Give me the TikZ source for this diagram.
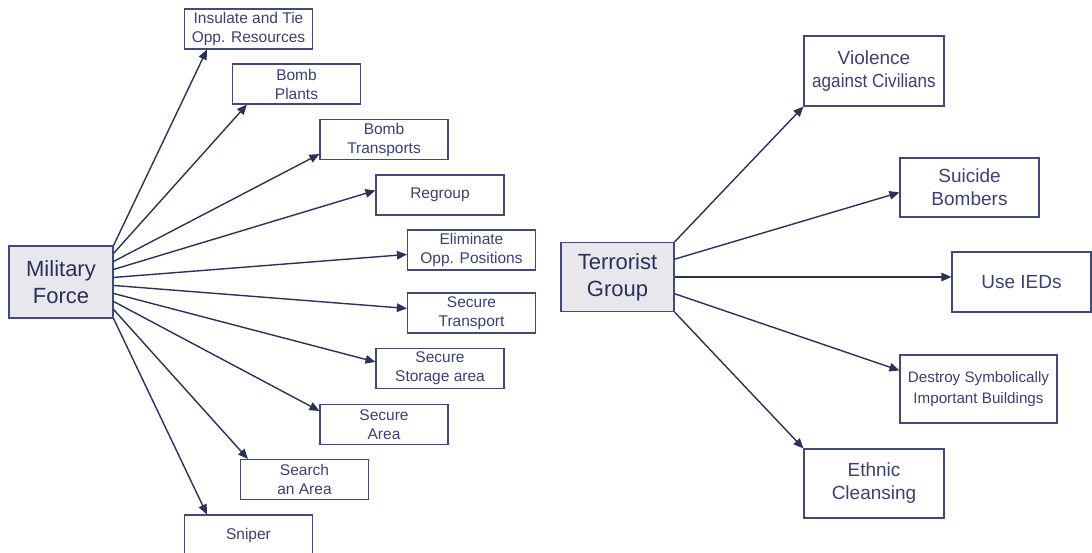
\documentclass[tikz,border=0pt]{standalone}
\usepackage{fontspec}
\usepackage{graphicx}
\setmainfont{Liberation Sans}
\usetikzlibrary{arrows.meta,calc}

\definecolor{linkcol}{HTML}{2B3158}
\definecolor{edgecol}{HTML}{414A78}
\definecolor{txtcol}{HTML}{3C416E}
\definecolor{hubfill}{HTML}{E8E8EC}
\definecolor{hubtxt}{HTML}{2A2F5C}

\begin{document}
\begin{tikzpicture}[x=1pt,y=-1pt,
  box/.style={draw=edgecol, line width=1.1pt, fill=white, text=txtcol,
    align=center, inner sep=0pt, minimum width=128pt, minimum height=40pt,
    font=\fontsize{15.5}{19}\selectfont},
  bigbox/.style={box, minimum width=140pt, minimum height=69pt,
    font=\fontsize{19}{23}\selectfont},
  hub/.style={box, fill=hubfill, text=hubtxt,
    font=\fontsize{22}{27}\selectfont},
  link/.style={draw=linkcol, line width=1.4pt,
    -{Triangle[length=10pt,width=8.5pt]}},
]
\useasboundingbox (0,0) rectangle (1092,553);

% ---------- Military Force ----------
\node[hub, minimum width=104pt, minimum height=72pt] (mf) at (61,282) {Military\\Force};

\node[box] (ins) at (248.5,29)  {Insulate and Tie\\Opp. Resources};
\node[box] (bp)  at (296.5,84)  {Bomb\\Plants};
\node[box] (bt)  at (384,139.5) {Bomb\\Transports};
\node[box] (rg)  at (440,195)   {Regroup};
\node[box] (el)  at (471.5,250) {Eliminate\\Opp. Positions};
\node[box] (st)  at (471.5,313) {Secure\\Transport};
\node[box] (ss)  at (440,368.5) {Secure\\Storage area};
\node[box] (sa)  at (384,424.5) {Secure\\Area};
\node[box] (se)  at (304.5,479.5) {Search\\an Area};
\node[box] (sn)  at (248.5,535) {Sniper};

\draw[link] (mf.north east) -- ([xshift=23pt]ins.south west);
\draw[link] ([yshift=-8pt]mf.north east) -- ([xshift=15pt]bp.south west);
\draw[link] ([yshift=-16pt]mf.north east) -- ([yshift=6pt]bt.south west);
\draw[link] ([yshift=-24pt]mf.north east) -- ([yshift=-16pt]rg.north west);
\draw[link] ([yshift=-32pt]mf.north east) -- ([yshift=-25pt]el.north west);
\draw[link] ([yshift=-40pt]mf.north east) -- ([yshift=-16pt]st.north west);
\draw[link] ([yshift=-48pt]mf.north east) -- ([yshift=-14pt]ss.north west);
\draw[link] ([yshift=-56pt]mf.north east) -- ([yshift=-7pt]sa.north west);
\draw[link] ([yshift=-64pt]mf.north east) -- ([xshift=8pt]se.north west);
\draw[link] (mf.south east) -- ([xshift=23pt]sn.north west);

% ---------- Terrorist Group ----------
\node[hub, minimum width=113pt, minimum height=69pt] (tg) at (617.5,277) {Terrorist\\Group};

\node[bigbox, minimum height=70pt] (vi) at (874,71)
  {Violence\\\scalebox{0.9}[1]{against Civilians}};
\node[bigbox, minimum width=139pt, minimum height=59pt] (sb) at (969.5,187.5) {Suicide\\Bombers};
\node[bigbox, minimum width=139pt, minimum height=60pt] (ie) at (1021.5,282) {Use IEDs};
\node[box, minimum width=157pt, minimum height=68pt,
  font=\fontsize{15.2}{21.5}\selectfont] (ds) at (978.5,389)
  {Destroy Symbolically\\Important Buildings};
\node[bigbox] (ec) at (874,483.5) {Ethnic\\Cleansing};

\draw[link] (tg.north east) -- (vi.south west);
\draw[link] ([yshift=-17.25pt]tg.north east) -- ([yshift=-35pt]sb.north west);
\draw[link] (tg.east) -- (tg.east -| ie.west);
\draw[link] ([yshift=-51.75pt]tg.north east) -- ([yshift=-16pt]ds.north west);
\draw[link] (tg.south east) -- (ec.north west);
\end{tikzpicture}
\end{document}
